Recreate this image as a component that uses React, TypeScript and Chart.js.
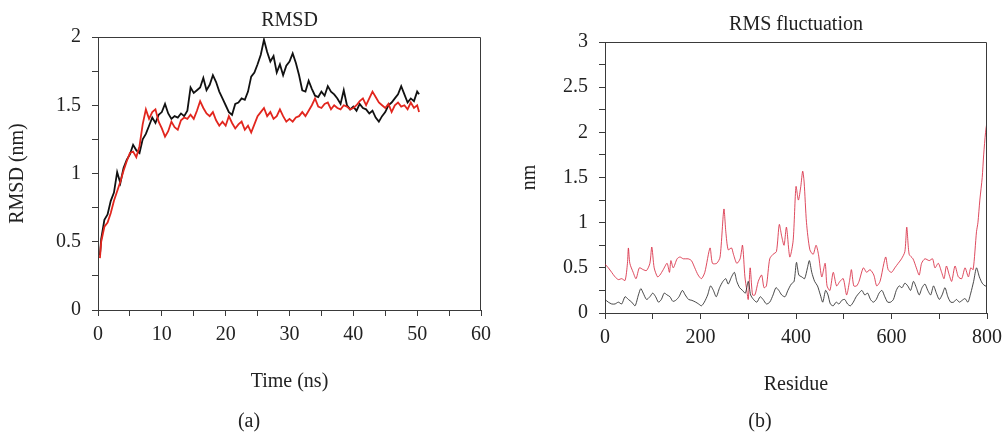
import React, { useEffect, useRef } from "react";
import { Chart, registerables } from "chart.js";

Chart.register(...registerables);

// ---------- Panel (a): RMSD vs time ----------
const rmsdTitle = "RMSD";
const rmsdXLabel = "Time (ns)";
const rmsdYLabel = "RMSD (nm)";
const rmsdTag = "(a)";
const rmsdXTicks = { min: 0, max: 60, step: 5, labelEvery: 10 };
const rmsdYTicks = { min: 0, max: 2, step: 0.25, labelEvery: 0.5 };

// sampling grid (ns): 0.3, 0.5, 1.0 ... 50.0, 50.3
const timeNs: number[] = [0.3, ...Array.from({ length: 100 }, (_, i) => (i + 1) * 0.5), 50.3];

const rmsdBlack = [
  0.40, 0.52, 0.66, 0.70, 0.80, 0.86, 1.01, 0.93, 1.04, 1.10,
  1.14, 1.21, 1.17, 1.15, 1.25, 1.29, 1.35, 1.41, 1.37, 1.43,
  1.45, 1.51, 1.44, 1.40, 1.42, 1.41, 1.44, 1.42, 1.46, 1.63,
  1.59, 1.61, 1.63, 1.70, 1.61, 1.65, 1.72, 1.67, 1.60, 1.55,
  1.50, 1.45, 1.43, 1.51, 1.52, 1.55, 1.54, 1.60, 1.71, 1.74,
  1.80, 1.87, 1.98, 1.89, 1.82, 1.86, 1.74, 1.80, 1.72, 1.79,
  1.82, 1.88, 1.81, 1.72, 1.61, 1.60, 1.68, 1.62, 1.57, 1.56,
  1.60, 1.57, 1.64, 1.60, 1.58, 1.55, 1.51, 1.61, 1.50, 1.47,
  1.49, 1.46, 1.51, 1.48, 1.47, 1.44, 1.46, 1.41, 1.38, 1.42,
  1.45, 1.50, 1.52, 1.55, 1.58, 1.64, 1.58, 1.52, 1.55, 1.53,
  1.60, 1.58,
];

const rmsdRed = [
  0.38, 0.50, 0.61, 0.64, 0.71, 0.80, 0.87, 0.94, 1.02, 1.09,
  1.15, 1.16, 1.12, 1.20, 1.36, 1.47, 1.40, 1.45, 1.47, 1.38,
  1.33, 1.27, 1.31, 1.38, 1.34, 1.32, 1.39, 1.41, 1.40, 1.43,
  1.40, 1.46, 1.53, 1.48, 1.44, 1.42, 1.45, 1.39, 1.35, 1.38,
  1.35, 1.42, 1.37, 1.33, 1.36, 1.38, 1.32, 1.35, 1.30, 1.36,
  1.42, 1.45, 1.48, 1.42, 1.45, 1.40, 1.42, 1.47, 1.42, 1.38,
  1.40, 1.38, 1.41, 1.42, 1.45, 1.42, 1.46, 1.50, 1.55, 1.49,
  1.48, 1.51, 1.52, 1.47, 1.50, 1.48, 1.47, 1.50, 1.49, 1.47,
  1.48, 1.50, 1.53, 1.55, 1.50, 1.55, 1.60, 1.56, 1.52, 1.50,
  1.48, 1.51, 1.45, 1.50, 1.52, 1.49, 1.50, 1.47, 1.52, 1.48,
  1.50, 1.45,
];

// ---------- Panel (b): RMS fluctuation vs residue ----------
const rmsfTitle = "RMS fluctuation";
const rmsfXLabel = "Residue";
const rmsfYLabel = "nm";
const rmsfTag = "(b)";
const rmsfXTicks = { min: 0, max: 800, step: 100, labelEvery: 200 };
const rmsfYTicks = { min: 0, max: 3, step: 0.25, labelEvery: 0.5 };

const redResidue = [
  0, 7, 14, 21, 28, 35, 42, 47, 49, 52,
  59, 65, 72, 80, 87, 94, 98, 103, 110, 115,
  122, 130, 135, 138, 143, 151, 157, 164, 174, 181,
  188, 195, 202, 209, 220, 225, 234, 241, 249, 253,
  258, 265, 269, 276, 283, 288, 293, 297, 300, 304,
  309, 314, 321, 328, 333, 338, 345, 352, 359, 365,
  370, 375, 380, 387, 394, 400, 405, 410, 414, 417,
  422, 429, 436, 442, 447, 454, 461, 465, 471, 478,
  485, 492, 499, 506, 512, 516, 521, 527, 532, 541,
  548, 555, 563, 569, 576, 584, 588, 593, 600, 607,
  614, 621, 628, 632, 637, 645, 652, 658, 663, 670,
  679, 686, 691, 698, 705, 710, 715, 721, 726, 733,
  740, 747, 754, 761, 766, 771, 778, 781, 785, 790,
  793, 797, 800,
];
const redRmsf = [
  0.54, 0.50, 0.45, 0.40, 0.37, 0.38, 0.36, 0.55, 0.72, 0.55,
  0.45, 0.38, 0.50, 0.48, 0.47, 0.55, 0.73, 0.50, 0.40, 0.42,
  0.48, 0.55, 0.45, 0.58, 0.50, 0.60, 0.62, 0.60, 0.60, 0.58,
  0.50, 0.42, 0.38, 0.45, 0.72, 0.55, 0.55, 0.62, 1.15, 0.90,
  0.70, 0.72, 0.65, 0.55, 0.60, 0.75, 0.40, 0.25, 0.15, 0.50,
  0.20, 0.20, 0.35, 0.42, 0.28, 0.30, 0.60, 0.65, 0.68, 0.98,
  0.85, 0.75, 0.95, 0.62, 0.80, 1.40, 1.25, 1.40, 1.57, 1.45,
  1.00, 0.70, 0.65, 0.75, 0.65, 0.40, 0.55, 0.30, 0.25, 0.45,
  0.30, 0.35, 0.38, 0.20, 0.35, 0.48, 0.30, 0.30, 0.35, 0.50,
  0.45, 0.48, 0.42, 0.30, 0.35, 0.55, 0.62, 0.48, 0.45, 0.50,
  0.55, 0.60, 0.68, 0.95, 0.65, 0.60, 0.50, 0.42, 0.55, 0.60,
  0.58, 0.60, 0.50, 0.55, 0.45, 0.38, 0.52, 0.42, 0.35, 0.52,
  0.40, 0.38, 0.50, 0.40, 0.50, 0.48, 0.90, 1.00, 1.25, 1.50,
  1.75, 2.00, 2.12,
];

const blackResidue = [
  0, 7, 14, 21, 28, 35, 42, 49, 56, 63,
  70, 75, 80, 87, 94, 100, 106, 112, 118, 124,
  130, 136, 142, 148, 155, 162, 168, 175, 182, 190,
  196, 202, 208, 215, 221, 227, 233, 240, 247, 253,
  258, 265, 271, 276, 282, 288, 294, 300, 305, 311,
  318, 325, 331, 338, 345, 352, 358, 364, 370, 377,
  383, 390, 396, 401, 406, 412, 418, 424, 428, 433,
  439, 445, 451, 456, 462, 467, 472, 478, 484, 490,
  496, 502, 508, 514, 520, 526, 532, 538, 544, 550,
  556, 562, 568, 574, 580, 586, 592, 598, 604, 610,
  616, 622, 628, 634, 640, 646, 652, 658, 664, 670,
  676, 682, 688, 694, 700, 706, 712, 718, 724, 730,
  736, 742, 748, 754, 760, 766, 772, 778, 784, 790,
  796, 800,
];
const blackRmsf = [
  0.15, 0.12, 0.10, 0.10, 0.12, 0.10, 0.18, 0.15, 0.12, 0.08,
  0.20, 0.27, 0.22, 0.15, 0.18, 0.22, 0.18, 0.12, 0.15, 0.22,
  0.20, 0.18, 0.13, 0.14, 0.18, 0.25, 0.20, 0.15, 0.14, 0.12,
  0.10, 0.08, 0.12, 0.20, 0.30, 0.25, 0.18, 0.28, 0.35, 0.38,
  0.32, 0.40, 0.45, 0.35, 0.28, 0.25, 0.22, 0.35, 0.20, 0.15,
  0.12, 0.18, 0.15, 0.10, 0.12, 0.20, 0.28, 0.25, 0.20, 0.18,
  0.25, 0.32, 0.35, 0.56, 0.42, 0.40, 0.38, 0.50, 0.58, 0.45,
  0.35, 0.30, 0.20, 0.12, 0.25, 0.20, 0.10, 0.08, 0.12, 0.10,
  0.14, 0.15, 0.10, 0.08, 0.12, 0.18, 0.22, 0.25, 0.20, 0.22,
  0.15, 0.12, 0.15, 0.22, 0.25, 0.18, 0.12, 0.12, 0.15, 0.25,
  0.30, 0.28, 0.33, 0.30, 0.25, 0.35, 0.28, 0.20, 0.28, 0.32,
  0.25, 0.20, 0.30, 0.22, 0.15, 0.20, 0.28, 0.18, 0.12, 0.12,
  0.15, 0.12, 0.14, 0.16, 0.12, 0.22, 0.35, 0.50, 0.40, 0.33,
  0.30, 0.30,
];

// ---------- shared styling ----------
const FONT = "'Liberation Serif', 'DejaVu Serif', serif";
const TEXT = "#222";
const AXIS = "#3a3a3a";

const zip = (xs: number[], ys: number[]) => xs.map((x, i) => ({ x, y: ys[i] }));

const framePlugin = {
  id: "frame",
  afterDraw(chart: any) {
    const { ctx, chartArea } = chart;
    const t = Math.round(chartArea.top) + 0.5;
    const r = Math.round(chartArea.right) - 0.5;
    const l = Math.round(chartArea.left);
    const b = Math.round(chartArea.bottom);
    ctx.save();
    ctx.strokeStyle = AXIS;
    ctx.lineWidth = 1;
    ctx.beginPath();
    ctx.moveTo(l, t);
    ctx.lineTo(r, t);
    ctx.lineTo(r, b);
    ctx.stroke();
    ctx.restore();
  },
};

function makeOptions(cfg: any) {
  const font = { family: FONT, size: 20, weight: "normal" as const };
  const fmt = (every: number) => (v: any) => {
    const n = Number(v);
    const q = n / every;
    return Math.abs(q - Math.round(q)) < 1e-6 ? String(Math.round(n * 100) / 100) : "";
  };
  return {
    animation: false,
    responsive: false,
    maintainAspectRatio: false,
    devicePixelRatio: 1,
    layout: { padding: cfg.padding },
    plugins: {
      legend: { display: false },
      tooltip: { enabled: false },
      title: {
        display: true,
        text: cfg.title,
        fullSize: false,
        color: TEXT,
        font,
        padding: cfg.titlePad,
      },
      subtitle: {
        display: true,
        text: cfg.tag,
        position: "bottom",
        fullSize: true,
        color: TEXT,
        font: { ...font, lineHeight: 1 },
        padding: { top: 0, bottom: 0 },
      },
    },
    scales: {
      x: {
        type: "linear",
        position: "bottom",
        min: cfg.xt.min,
        max: cfg.xt.max,
        ticks: {
          stepSize: cfg.xt.step,
          autoSkip: false,
          maxRotation: 0,
          minRotation: 0,
          padding: 7,
          color: TEXT,
          font,
          callback: fmt(cfg.xt.labelEvery),
        },
        grid: { display: true, drawOnChartArea: false, drawTicks: true, tickLength: 6, tickColor: AXIS, tickWidth: 1 },
        border: { display: true, color: AXIS, width: 1 },
        title: { display: true, text: cfg.xLabel, color: TEXT, font, padding: { top: 0, bottom: cfg.xTitlePad } },
        afterFit: (s: any) => {
          s.height = cfg.xHeight;
          s.paddingLeft = 0;
          s.paddingRight = 0;
        },
      },
      y: {
        type: "linear",
        position: "left",
        min: cfg.yt.min,
        max: cfg.yt.max,
        ticks: {
          stepSize: cfg.yt.step,
          autoSkip: false,
          padding: 11,
          color: TEXT,
          font,
          callback: fmt(cfg.yt.labelEvery),
        },
        grid: { display: true, drawOnChartArea: false, drawTicks: true, tickLength: 6, tickColor: AXIS, tickWidth: 1 },
        border: { display: true, color: AXIS, width: 1 },
        title: { display: true, text: cfg.yLabel, color: TEXT, font, padding: { top: cfg.yTitlePad, bottom: 0 } },
        afterFit: (s: any) => {
          s.width = cfg.yWidth;
          s.paddingTop = 0;
          s.paddingBottom = 0;
        },
      },
    },
  };
}

function ChartCanvas({ config, width, height, left }: any) {
  const ref = useRef<HTMLCanvasElement | null>(null);
  useEffect(() => {
    if (!ref.current) return;
    const chart = new Chart(ref.current, config);
    return () => chart.destroy();
  }, []);
  return (
    <canvas
      ref={ref}
      width={width}
      height={height}
      style={{ position: "absolute", left, top: 0, width, height }}
    />
  );
}

const rmsdConfig: any = {
  type: "line",
  data: {
    datasets: [
      {
        label: "red",
        data: zip(timeNs, rmsdRed),
        borderColor: "#e2261e",
        borderWidth: 1.8,
        pointRadius: 0,
        tension: 0,
      },
      {
        label: "black",
        data: zip(timeNs, rmsdBlack),
        borderColor: "#111111",
        borderWidth: 1.8,
        pointRadius: 0,
        tension: 0,
      },
    ],
  },
  options: makeOptions({
    title: rmsdTitle,
    tag: rmsdTag,
    xLabel: rmsdXLabel,
    yLabel: rmsdYLabel,
    xt: rmsdXTicks,
    yt: rmsdYTicks,
    padding: { left: 17, right: 19, top: 0, bottom: 0 },
    titlePad: { top: 9, bottom: 4 },
    xHeight: 102,
    xTitlePad: 18,
    yWidth: 81,
    yTitlePad: -11,
  }),
  plugins: [framePlugin],
};

const rmsfConfig: any = {
  type: "line",
  data: {
    datasets: [
      {
        label: "black",
        data: zip(blackResidue, blackRmsf),
        borderColor: "rgba(40,40,40,0.85)",
        borderWidth: 1,
        pointRadius: 0,
        tension: 0.25,
      },
      {
        label: "red",
        data: zip(redResidue, redRmsf),
        borderColor: "rgba(214,30,55,0.8)",
        borderWidth: 1,
        pointRadius: 0,
        tension: 0.25,
      },
    ],
  },
  options: makeOptions({
    title: rmsfTitle,
    tag: rmsfTag,
    xLabel: rmsfXLabel,
    yLabel: rmsfYLabel,
    xt: rmsfXTicks,
    yt: rmsfYTicks,
    padding: { left: 33, right: 16, top: 0, bottom: 0 },
    titlePad: { top: 13, bottom: 5 },
    xHeight: 99,
    xTitlePad: 15,
    yWidth: 72,
    yTitlePad: -15,
  }),
  plugins: [framePlugin],
};

export default function App() {
  return (
    <div style={{ position: "absolute", left: 0, top: 0, width: 1003, height: 432, background: "#fff" }}>
      <ChartCanvas config={rmsdConfig} width={500} height={432} left={0} />
      <ChartCanvas config={rmsfConfig} width={503} height={432} left={500} />
    </div>
  );
}
